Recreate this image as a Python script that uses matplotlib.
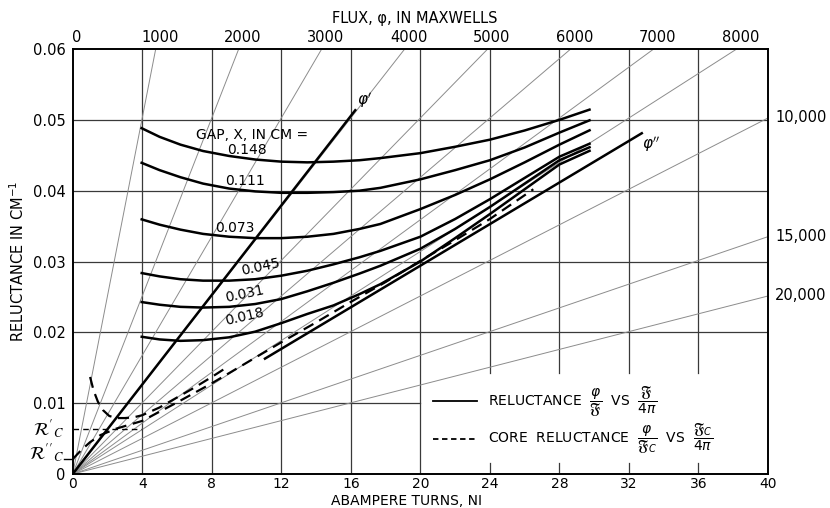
import numpy as np
import matplotlib
matplotlib.use("Agg")
import matplotlib.pyplot as plt
from matplotlib.lines import Line2D

# abampere turns where the gap curves were read
ni_gap = [3.9, 5, 6.2, 7.5, 9, 10.5, 12, 13.5, 15, 16.5, 17.7, 20, 22, 24, 26, 28, 29.8]
gap_148 = [.0489, .0476, .0465, .0456, .0449, .0444, .0441, .0440, .0441, .0443, .0446,
           .0453, .0462, .0472, .0485, .0500, .0515]
gap_111 = [.0440, .0429, .0419, .0410, .0403, .0399, .0397, .0397, .0398, .0400, .0404,
           .0416, .0429, .0443, .0461, .0482, .0500]
gap_073 = [.0360, .0352, .0345, .0339, .0335, .0333, .0333, .0335, .0339, .0346, .0353,
           .0374, .0394, .0416, .0440, .0465, .0486]
gap_045 = [.0284, .0279, .0275, .0273, .0273, .0275, .0280, .0287, .0296, .0306, .0315,
           .0335, .0360, .0388, .0418, .0448, .0467]
gap_031 = [.0243, .0239, .0236, .0235, .0236, .0240, .0247, .0258, .0270, .0283, .0294,
           .0318, .0346, .0377, .0410, .0443, .0462]
gap_018 = [.0194, .0190, .0188, .0189, .0193, .0201, .0213, .0226, .0238, .0254, .0268,
           .0300, .0333, .0367, .0402, .0437, .0457]
gap_names = ["0.148", "0.111", "0.073", "0.045", "0.031", "0.018"]

# core reluctance (dashed)
ni_core = [0, 0.5, 1.0, 1.6, 2.5, 4, 6, 8, 10, 12, 14, 16, 18, 20, 22, 24, 26.5]
r_core = [.0021, .0034, .0045, .0055, .0064, .0075, .0101, .0128, .0157, .0186,
          .0214, .0243, .0271, .0301, .0330, .0360, .0402]
ni_hook = [1.0, 1.2, 1.45, 1.75, 2.1, 2.5, 3.0, 3.5, 4.0, 5.0, 6.0, 7.0, 8.0, 8.7]
r_hook = [.0137, .0118, .0102, .0090, .0082, .0079, .0079, .0080, .0083, .0094,
          .0108, .0122, .0137, .0148]

# phi' and phi'' lines
ni_phi1 = [0, 16.3]
r_phi1 = [0, 0.0515]
ni_phi2 = [11.0, 32.8]
r_phi2 = [0.0162, 0.0482]

r_c1 = 0.0063
r_c2 = 0.0021

flux_values = [1000, 2000, 3000, 4000, 5000, 6000, 7000, 8000, 10000, 15000, 20000]
x_ticks = list(range(0, 41, 4))
y_ticks = [0, 0.01, 0.02, 0.03, 0.04, 0.05, 0.06]

fig = plt.figure(figsize=(8.3, 5.08), dpi=100)
ax = fig.add_axes([0.0876, 0.0669, 0.8377, 0.8366])
ax.set_xlim(0, 40)
ax.set_ylim(0, 0.06)

grid_kw = dict(color="#3a3a3a", lw=0.9, zorder=1)
for x in x_ticks[1:-1]:
    if x >= 24:
        ax.plot([x, x], [0.0143, 0.06], **grid_kw)
        ax.plot([x, x], [0, 0.0015], **grid_kw)
    else:
        ax.plot([x, x], [0, 0.06], **grid_kw)
for y in y_ticks[1:-1]:
    if y == 0.01:
        ax.plot([0, 20], [y, y], **grid_kw)
    else:
        ax.plot([0, 40], [y, y], **grid_kw)

# constant flux lines through the origin
for phi in flux_values:
    slope = 4 * np.pi / phi
    ni_end = min(40, 0.06 / slope)
    ax.plot([0, ni_end], [0, slope * ni_end], color="#8c8c8c", lw=0.7, zorder=1)
    if ni_end < 40:
        ax.annotate(str(phi), (ni_end, 0.06), xytext=(3, 3), textcoords="offset points",
                    ha="center", va="bottom", fontsize=10.5, annotation_clip=False)
    else:
        ax.annotate(f"{phi:,}", (40, slope * 40), xytext=(5, 0), textcoords="offset points",
                    ha="left", va="center", fontsize=10.5, annotation_clip=False)
ax.annotate("0", (0, 0.06), xytext=(3, 3), textcoords="offset points",
            ha="center", va="bottom", fontsize=10.5, annotation_clip=False)

curve_kw = dict(color="black", lw=1.8, zorder=3, solid_capstyle="butt",
                solid_joinstyle="round")
for vals in [gap_148, gap_111, gap_073, gap_045, gap_031, gap_018]:
    ax.plot(ni_gap, vals, **curve_kw)
ax.plot(ni_phi1, r_phi1, **curve_kw)
ax.plot(ni_phi2, r_phi2, **curve_kw)

dash_kw = dict(color="black", lw=1.6, dashes=(5, 3), zorder=3)
ax.plot(ni_core, r_core, **dash_kw)
ax.plot(ni_hook, r_hook, **dash_kw)
ax.plot([0, 4], [r_c1, r_c1], color="black", lw=1.0, dashes=(4, 3), zorder=2)
ax.plot([-0.5, 0], [r_c2, r_c2], color="black", lw=1.0, clip_on=False)

# labels on the curves
ax.text(10.3, 0.0478, "GAP, X, IN CM =", fontsize=10, ha="center", va="center")
label_pos = [(10.0, 0.0457, 0), (9.9, 0.0414, 0), (9.3, 0.0348, 0),
             (10.8, 0.0292, 12), (9.9, 0.0254, 12), (9.9, 0.0222, 13)]
for name, (lx, ly, rot) in zip(gap_names, label_pos):
    ax.text(lx, ly, name, fontsize=10, ha="center", va="center", rotation=rot, zorder=4)
ax.text(16.8, 0.0528, r"$\varphi'$", fontsize=11, ha="center", va="center")
ax.text(33.3, 0.0466, r"$\varphi''$", fontsize=11, ha="center", va="center")

# axes styling
for s in ax.spines.values():
    s.set_linewidth(1.4)
ax.set_xticks(x_ticks)
ax.set_xticklabels([str(x) for x in x_ticks], fontsize=10)
ax.set_yticks(y_ticks)
ax.set_yticklabels(["0", "0.01", "0.02", "0.03", "0.04", "0.05", "0.06"], fontsize=10.5)
ax.tick_params(length=0, pad=5)
ax.tick_params(axis="x", pad=2.5)
ax.text(-0.5, r_c1, r"$\mathcal{R}'_C$", fontsize=13, ha="right", va="center",
        math_fontfamily="stix")
ax.text(-0.5, r_c2 + 0.0008, r"$\mathcal{R}''_C$", fontsize=13, ha="right", va="center",
        math_fontfamily="stix")

fig.text(0.5, 1 - 18 / 508, "FLUX, φ, IN MAXWELLS", fontsize=10.5, ha="center", va="center")
fig.text(0.49, 1 - 501 / 508, "ABAMPERE TURNS, NI", fontsize=10, ha="center", va="center")
ax.set_ylabel("RELUCTANCE IN CM$^{-1}$", fontsize=10.5, labelpad=4)

handles = [Line2D([], [], color="black", lw=1.3),
           Line2D([], [], color="black", lw=1.3, dashes=(3, 2))]
labels = [r"RELUCTANCE  $\dfrac{\varphi}{\mathfrak{F}}$  VS  $\dfrac{\mathfrak{F}}{4\pi}$",
          r"CORE  RELUCTANCE  $\dfrac{\varphi}{\mathfrak{F}_C}$  VS  $\dfrac{\mathfrak{F}_C}{4\pi}$"]
ax.legend(handles, labels, loc="lower left", bbox_to_anchor=(0.5, 0.012),
          frameon=False, fontsize=10, handlelength=3.2, labelspacing=0.25,
          handletextpad=0.8)

fig.savefig("out.png", dpi=100, facecolor="white")
